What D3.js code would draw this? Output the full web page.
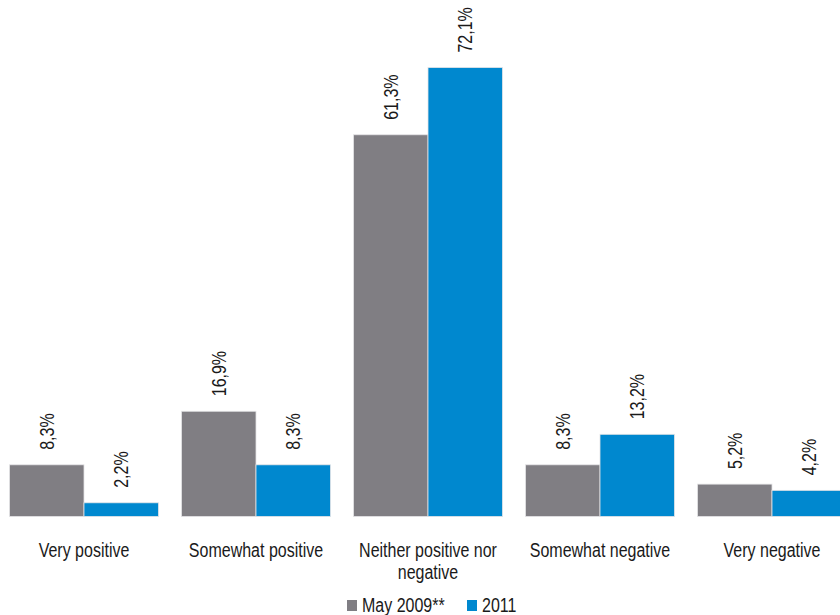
<!DOCTYPE html>
<html>
<head>
<meta charset="utf-8">
<script src="https://cdn.jsdelivr.net/npm/d3@7/dist/d3.min.js"></script>
<style>
  html, body { margin: 0; padding: 0; background: #fff; }
  svg { display: block; }
  text { font-family: "Liberation Sans Narrow", "Arial Narrow", "Liberation Sans", Arial, sans-serif; fill: #1a1a1a; }
</style>
</head>
<body>
<svg id="chart" width="840" height="615"></svg>
<script>
// Attitude categories along the x axis
const categories = [
  ["Very positive"],
  ["Somewhat positive"],
  ["Neither positive nor", "negative"],
  ["Somewhat negative"],
  ["Very negative"]
];
const seriesNames = ["May 2009**", "2011"];
const valuesMay2009 = [8.3, 16.9, 61.3, 8.3, 5.2];
const values2011 = [2.2, 8.3, 72.1, 13.2, 4.2];
const seriesColors = ["#807e83", "#0088cf"];

const svg = d3.select("#chart");
const baseline = 516.5;
const pxPerPct = 6.227;
const fontSize = 20;
const narrow = 0.8; // horizontal squeeze for a condensed look

const catKeys = categories.map(c => c.join(" "));
const x = d3.scaleBand()
  .domain(catKeys)
  .range([-2, 858])
  .paddingInner(0.134)
  .paddingOuter(0.067);

const xs = d3.scaleBand()
  .domain(seriesNames)
  .range([0, x.bandwidth()]);

const y = d3.scaleLinear()
  .domain([0, 72.1])
  .range([baseline, baseline - 72.1 * pxPerPct]);

const rows = catKeys.map((k, i) => ({ key: k, vals: [valuesMay2009[i], values2011[i]] }));

const groups = svg.append("g").selectAll("g")
  .data(rows)
  .join("g")
  .attr("transform", d => `translate(${x(d.key)},0)`);

const bars = groups.selectAll("g.bar")
  .data(d => d.vals.map((v, j) => ({ name: seriesNames[j], v, j })))
  .join("g")
  .attr("class", "bar");

bars.append("rect")
  .attr("x", d => xs(d.name))
  .attr("y", d => y(d.v))
  .attr("width", xs.bandwidth())
  .attr("height", d => baseline - y(d.v))
  .attr("fill", d => seriesColors[d.j])
  .attr("stroke", "#e4e4e6")
  .attr("stroke-width", 0.8);

const fmt = v => v.toFixed(1).replace(".", ",") + "%";

// Value labels, rotated, just above each bar
bars.append("text")
  .attr("transform", d => `translate(${xs(d.name) + xs.bandwidth() / 2 + 7},${y(d.v) - 15}) rotate(-90) scale(${narrow},1)`)
  .attr("text-anchor", "start")
  .attr("font-size", fontSize)
  .text(d => fmt(d.v));

// Category labels (x axis without line or ticks)
const xAxis = d3.axisBottom(x).tickSize(0).tickFormat("");
const axisG = svg.append("g")
  .attr("transform", `translate(0,${baseline})`)
  .call(xAxis);
axisG.select(".domain").remove();

axisG.selectAll(".tick").each(function(d, i) {
  const t = d3.select(this).append("text")
    .attr("transform", `scale(${narrow},1)`)
    .attr("text-anchor", "middle")
    .attr("font-size", fontSize)
    .attr("fill", "#1a1a1a");
  categories[i].forEach((line, li) => {
    t.append("tspan").attr("x", 0).attr("y", 40.5 + li * 22).text(line);
  });
});

// Legend
const legendItems = [
  { name: seriesNames[0], color: seriesColors[0], x: 347 },
  { name: seriesNames[1], color: seriesColors[1], x: 467 }
];
const legend = svg.append("g").selectAll("g")
  .data(legendItems)
  .join("g")
  .attr("transform", d => `translate(${d.x},600)`);
legend.append("rect")
  .attr("width", 10).attr("height", 11)
  .attr("fill", d => d.color);
legend.append("text")
  .attr("transform", `translate(15,12) scale(${narrow},1)`)
  .attr("font-size", fontSize)
  .text(d => d.name);
</script>
</body>
</html>
